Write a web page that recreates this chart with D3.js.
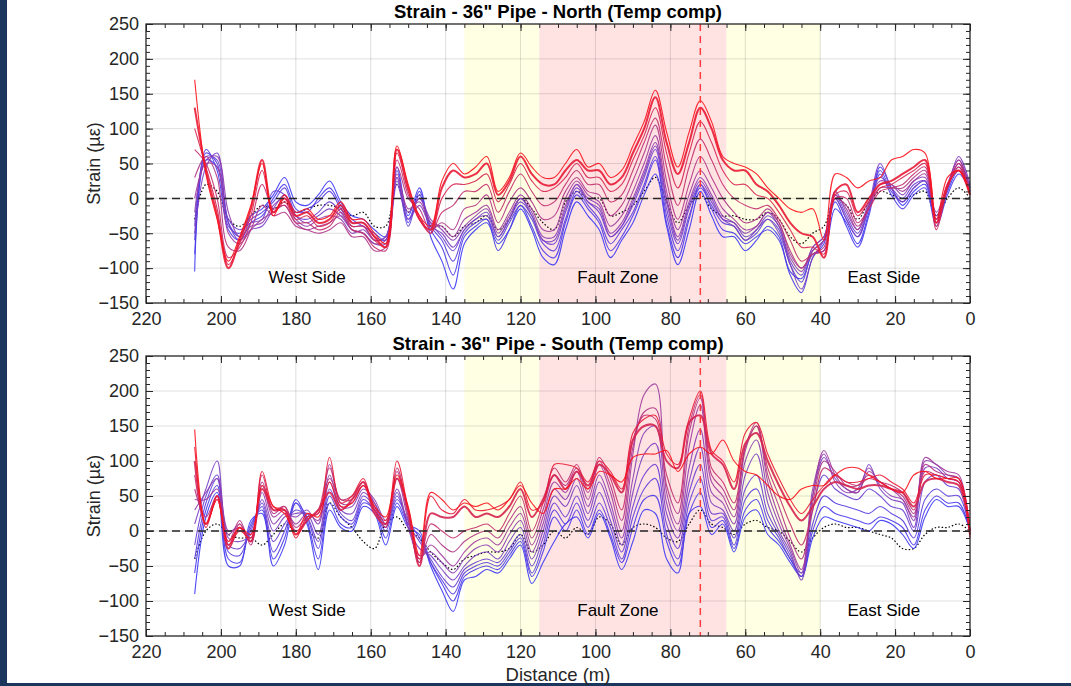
<!DOCTYPE html>
<html>
<head>
<meta charset="utf-8">
<script src="https://cdn.jsdelivr.net/npm/d3@7"></script>
<style>
  body { margin: 0; background: #fff; }
  svg { display: block; font-family: "Liberation Sans", Arial, sans-serif; }
</style>
</head>
<body>
<div id="chart"></div>
<script>
const width = 1071;
const height = 686;

// AXES
const xTicks = [220, 200, 180, 160, 140, 120, 100, 80, 60, 40, 20, 0];
const yTicks = [-150, -100, -50, 0, 50, 100, 150, 200, 250];

// ZONES (m)
const transitionWest = [135, 115];
const faultZone = [115, 65];
const transitionEast = [65, 40];
const faultTrace = 72;
const zoneNames = ["West Side", "Fault Zone", "East Side"];
const zoneNameAt = [177, 94, 23];
const zoneNameLevel = -121;

// DISTANCE OF EACH READING (m)
const distance = [207, 204, 201, 198, 195, 192, 189, 186, 183, 180, 177, 174, 171, 168, 165, 162, 159,
  156, 153, 150, 147, 144, 141, 138, 135, 132, 129, 126, 123, 120, 117, 114, 111, 108, 105, 102, 99,
  96, 93, 90, 87, 84, 81, 78, 75, 72, 69, 66, 63, 60, 57, 54, 51, 48, 45, 42, 39, 36, 33, 30, 27, 24,
  21, 18, 15, 12, 9, 6, 3, 0];

// NORTH - strain (µε), earliest to latest
const n01 = [-105,55,45,-35,-55, -25,-15,5,30,-5,-10,5,25,-5,-25,-30,-45, -55,45,-25,15,-55,-90,-130,-65,
  -45,-35,-65,-45,-15,-45,-85,-95,-45,-5,-25,-45,-85,-60,-35,5,35,-40,-95,-45,10,-25,-55,
  -55,-75,-60,-40,-55,-105,-115,-80,-75,-15,-35,-65,-20,45,15,-10,10,20,-35,10,40,15];
const n02 = [-80,70,40,-45,-60, -35,-25,0,20,-15,-20,0,15,-10,-30,-40,-50, -60,40,-35,10,-45,-70,-110,-55,
  -40,-30,-75,-45,-10,-40,-75,-85,-35,5,-15,-35,-75,-55,-25,15,55,-35,-85,-30,20,-15,-45,
  -50,-65,-55,-45,-60,-110,-135,-85,-65,-5,-40,-70,-25,35,5,-15,5,15,-40,5,35,10];
const n03 = [-60,65,50,-40,-50, -30,-20,-5,15,-20,-15,-5,10,-15,-35,-35,-55, -60,30,-40,5,-40,-60,-90,-50,
  -35,-30,-60,-35,-10,-30,-65,-75,-30,10,-10,-30,-65,-45,-20,20,60,-25,-75,-25,15,-10,-35,
  -40,-60,-50,-30,-45,-95,-120,-75,-60,0,-30,-55,-15,40,10,-5,15,25,-30,15,45,10];
const n04 = [-40,60,55,-30,-45, -35,-30,10,5,-25,-30,-20,-5,-20,-40,-40,-60, -55,25,-30,0,-35,-55,-75,-45,
  -30,-20,-55,-30,0,-25,-60,-65,-20,15,-5,-20,-55,-40,-10,30,70,-15,-65,-15,20,-5,-30,
  -35,-55,-45,-25,-40,-90,-110,-70,-55,5,-25,-50,-10,30,15,0,20,25,-25,15,50,15];
const n05 = [-50,45,65,-35,-60, -45,-40,-15,5,-25,-35,-25,-15,-25,-45,-50,-65, -65,20,-30,-10,-40,-50,-70,-45,
  -30,-25,-55,-30,-5,-25,-60,-60,-15,20,-5,-15,-55,-40,-5,35,75,-5,-60,-10,25,0,-30,
  -40,-60,-45,-30,-50,-95,-130,-85,-60,0,-30,-55,-10,50,15,-5,15,25,-30,15,60,20];
const n06 = [-20,55,60,-20,-55, -40,-35,-10,0,-30,-40,-30,-25,-30,-50,-45,-60, -55,30,-20,0,-30,-45,-60,-40,
  -25,-15,-50,-25,0,-20,-55,-55,-10,20,0,-10,-50,-35,0,40,80,0,-55,-5,30,5,-25,
  -35,-50,-40,-20,-40,-85,-105,-70,-55,10,-20,-45,-5,25,20,5,25,30,-20,20,55,15];
const n07 = [0,50,45,-50,-65, -45,-30,-20,-10,-35,-45,-40,-35,-25,-45,-50,-65, -60,35,-15,-5,-35,-40,-55,-30,
  -20,-10,-45,-20,5,-15,-45,-45,0,25,5,-5,-40,-25,10,50,90,10,-45,5,40,15,-15,
  -30,-45,-40,-20,-35,-80,-100,-75,-60,5,-15,-45,-10,20,20,10,25,35,-25,20,55,10];
const n08 = [30,60,30,-70,-75, -45,-10,-25,-20,-40,-45,-50,-45,-35,-55,-55,-75, -70,45,0,-15,-45,-35,-45,-15,
  -10,5,-35,-5,15,-5,-30,-25,10,30,10,5,-25,-10,25,65,105,25,-30,20,60,30,0,
  -20,-35,-30,-15,-35,-75,-100,-80,-70,0,-10,-40,-15,15,15,15,30,40,-35,15,50,10];
const n09 = [70,50,0,-85,-70, -35,20,-15,-10,-35,-35,-45,-40,-20,-45,-50,-70, -75,55,5,-25,-50,-20,-10,10,
  10,20,-20,10,35,10,-10,-5,20,40,20,20,-5,5,40,80,115,45,-10,45,85,55,20,
  0,-10,-15,-10,-30,-60,-90,-80,-75,0,0,-35,-15,10,15,20,35,45,-40,15,50,5];
const n10 = [100,45,-15,-95,-65, -25,40,-20,-5,-30,-25,-40,-35,-15,-40,-40,-60, -70,65,10,-30,-50,0,20,20,
  25,35,-5,20,50,25,10,15,30,50,30,30,10,20,55,90,130,65,15,65,110,80,40,
  20,20,5,0,-20,-45,-70,-70,-80,5,10,-25,-5,15,20,30,40,50,-45,15,45,5];
const n11 = [130,40,-25,-100,-60, -15,55,-20,0,-25,-20,-35,-30,-10,-35,-35,-55, -70,70,15,-30,-45,15,40,30,
  35,50,5,25,60,35,20,20,40,55,40,40,20,30,65,100,145,80,35,80,130,100,55,
  40,40,20,10,-10,-35,-50,-55,-85,10,20,-20,0,20,25,35,45,55,-35,20,40,5];
const n12 = [170,35,-30,-90,-55, -10,50,-25,5,-20,-15,-30,-25,-5,-30,-30,-50, -65,75,20,-25,-40,25,50,35,
  45,60,10,30,65,45,30,30,50,70,45,50,30,40,75,110,155,95,45,95,140,110,60,
  50,45,35,15,0,-15,-20,-15,-60,35,30,15,25,30,55,60,70,65,-30,30,40,5];
const northBaseline = [-30,20,10,-30,-40, -25,-10,-15,-5,-20,-15,-10,-10,-15,-25,-20,-40, -40,20,-20,5,-40,-40,-55,-40,
  -35,-25,-45,-30,0,-15,-35,-45,-5,10,0,0,-25,-20,-10,10,30,-5,-35,-10,5,-15,-25,
  -25,-30,-30,-20,-30,-55,-65,-50,-40,0,-10,-30,-5,10,5,0,5,10,-25,0,15,0];
const northSeries = [n01, n02, n03, n04, n05, n06, n07, n08, n09, n10, n11, n12];
const northBold = [10];

// SOUTH - strain (µε), earliest to latest
const s01 = [-90,20,55,-50,-50, 15,25,-50,-20,40,10,-55,30,5,0,35,25, -20,35,5,-5,-50,-85,-115,-70,
  -65,-55,-60,-40,-20,-75,-45,-15,10,20,-10,25,-10,-55,-15,30,25,-40,-60,25,35,-5,10,
  -30,20,30,-5,-20,-45,-65,-10,20,15,10,5,0,15,10,-5,-25,20,45,35,35,0];
const s02 = [-60,30,65,-40,-45, 10,30,-40,-10,45,15,-40,40,10,5,40,30, -10,40,10,0,-45,-75,-100,-65,
  -55,-50,-55,-35,-15,-65,-30,20,0,30,-5,30,-5,-45,5,45,50,-15,-50,25,55,5,15,
  -25,30,45,5,-15,-40,-65,0,35,25,20,15,10,20,15,5,-20,30,50,40,40,0];
const s03 = [-40,40,75,-30,-35, 5,35,-30,0,40,20,-25,50,20,10,45,30, 0,45,15,-10,-45,-70,-90,-60,
  -50,-45,-50,-30,-10,-60,-20,30,10,40,5,40,5,-40,20,60,75,-5,-40,40,75,15,20,
  -20,45,60,15,-10,-40,-60,10,50,40,35,30,25,35,25,15,-10,45,60,50,50,0];
const s04 = [-20,50,80,-20,-25, 0,40,-15,10,30,20,-15,60,25,15,50,35, 5,50,10,-15,-40,-65,-80,-55,
  -45,-40,-45,-25,-5,-50,-10,40,20,50,15,55,15,-30,35,80,95,10,-25,55,95,25,25,
  -10,60,80,25,-5,-35,-65,30,80,60,50,45,60,50,35,30,0,70,80,65,60,0];
const s05 = [10,60,100,-10,-15, -5,45,0,20,25,25,-5,70,30,25,55,40, 10,55,5,-25,-35,-55,-70,-50,
  -35,-30,-40,-15,5,-40,0,50,35,65,25,70,30,-20,55,110,125,25,-10,70,120,40,30,
  0,80,110,40,0,-30,-70,50,105,75,60,55,95,60,45,40,5,90,90,75,70,0];
const s06 = [30,55,75,0,5, -10,55,10,25,20,30,10,80,35,35,60,45, 15,60,5,-35,-30,-45,-60,-40,
  -25,-20,-30,-5,15,-30,10,60,45,75,35,80,40,-10,75,140,150,40,0,90,145,55,40,
  10,100,130,55,10,-25,-60,60,110,70,55,60,90,65,50,45,15,100,95,80,75,0];
const s07 = [45,45,60,-5,10, -15,65,20,30,10,25,15,95,40,40,65,40, 10,75,15,-40,-20,-35,-50,-30,
  -15,-10,-20,5,25,-20,20,70,55,85,45,95,55,0,110,195,210,55,10,120,180,70,50,
  20,115,150,70,20,-20,-55,50,115,80,60,55,85,70,60,45,20,105,95,85,80,0];
const s08 = [60,20,50,-15,15, -20,70,25,35,5,20,25,75,45,45,65,35, 5,85,20,-45,-5,-20,-30,-15,
  -5,0,-10,15,35,-10,30,80,65,90,55,100,65,15,120,170,175,65,25,140,190,80,60,
  30,120,155,80,35,-10,-40,40,100,85,65,65,80,70,60,50,25,95,85,80,75,0];
const s09 = [80,10,45,-20,10, -15,80,30,35,0,15,30,90,45,50,70,30, 5,90,25,-45,10,0,-10,0,
  5,10,0,25,50,0,40,90,70,95,60,105,75,30,130,165,160,80,40,150,195,90,70,
  40,120,150,90,50,10,-20,30,90,80,70,65,75,70,65,55,30,85,80,75,70,-5];
const s10 = [100,10,50,-25,5, -15,60,30,30,-5,15,30,55,30,45,70,25, 10,75,30,-50,25,20,20,35,
  20,25,20,35,60,20,45,80,60,85,65,95,80,55,130,150,150,100,90,155,165,110,95,
  60,125,140,100,65,35,15,35,60,70,65,60,65,65,60,55,35,70,75,70,65,-5];
const s11 = [120,5,50,-20,0, -10,85,35,30,-10,20,25,105,40,50,75,30, 15,100,30,-40,50,30,25,45,
  30,30,35,45,70,30,40,95,95,90,70,100,85,60,140,160,165,110,95,160,200,115,100,
  70,140,155,110,75,45,25,45,65,80,70,70,75,80,70,60,40,80,80,75,70,-10];
const s12 = [145,10,45,-15,5, -5,65,35,25,-5,25,20,70,35,40,65,35, 20,80,35,-35,55,45,30,40,
  35,40,30,45,65,40,25,60,60,75,60,85,80,70,105,110,110,115,85,110,120,110,130,
  100,85,80,65,50,45,60,65,65,80,90,90,80,70,60,55,80,85,75,75,75,0];
const southBaseline = [-40,0,10,-5,-10, -10,-20,-5,10,0,0,-10,40,20,5,-15,-25, 10,20,0,-10,-30,-45,-55,-40,
  -35,-30,-30,-25,-5,-30,-20,0,-10,5,-5,20,10,-20,5,10,5,-10,-15,10,30,10,5,
  -5,10,15,5,0,-15,-30,-10,5,10,5,5,0,-5,-10,-25,-25,-5,5,5,10,0];
const southSeries = [s01, s02, s03, s04, s05, s06, s07, s08, s09, s10, s11, s12];
const southBold = [9];

const panels = [
  { title: "Strain - 36\" Pipe - North (Temp comp)", series: northSeries, base: northBaseline, bold: northBold, top: 24, bottom: 303, xLabel: false },
  { title: "Strain - 36\" Pipe - South (Temp comp)", series: southSeries, base: southBaseline, bold: southBold, top: 356, bottom: 636, xLabel: true }
];

const ink = "#262626";
const fontSize = 18;
const lineColor = d3.interpolateRgbBasis(["#3a36f5", "#9248b8", "#fc1018"]);

const svg = d3.select("#chart")
  .append("svg")
  .attr("width", width)
  .attr("height", height);

svg.append("rect").attr("width", width).attr("height", height).attr("fill", "#fff");

// slide frame
svg.append("rect").attr("x", 0).attr("y", 0).attr("width", 7).attr("height", height).attr("fill", "#1b365d");
svg.append("rect").attr("x", 0).attr("y", 683).attr("width", width).attr("height", 3).attr("fill", "#1b365d");

const x = d3.scaleLinear().domain([220, 0]).range([146, 970]);

panels.forEach(p => drawPanel(p));

function drawPanel(p) {
  const y = d3.scaleLinear().domain([-150, 250]).range([p.bottom, p.top]);
  const g = svg.append("g");

  // ZONE SHADING
  const band = (range, color) => g.append("rect")
    .attr("x", x(range[0]))
    .attr("width", x(range[1]) - x(range[0]))
    .attr("y", p.top)
    .attr("height", p.bottom - p.top)
    .attr("fill", color);
  band(transitionWest, "#ffffe3");
  band(faultZone, "#ffe3e3");
  band(transitionEast, "#ffffe3");

  // GRID
  g.append("g").selectAll("line")
    .data(xTicks.slice(1, -1))
    .enter().append("line")
    .attr("x1", d => x(d)).attr("x2", d => x(d))
    .attr("y1", p.top).attr("y2", p.bottom)
    .attr("stroke", ink).attr("stroke-opacity", 0.15);
  g.append("g").selectAll("line")
    .data(yTicks.slice(1, -1))
    .enter().append("line")
    .attr("x1", x(220)).attr("x2", x(0))
    .attr("y1", d => y(d)).attr("y2", d => y(d))
    .attr("stroke", ink).attr("stroke-opacity", 0.15);

  // LINES
  const line = d3.line()
    .x((d, i) => x(distance[i]))
    .y(d => y(d))
    .curve(d3.curveCatmullRom.alpha(0.5));

  g.append("path")
    .attr("d", line(p.base))
    .attr("fill", "none")
    .attr("stroke", "#000")
    .attr("stroke-width", 1.2)
    .attr("stroke-dasharray", "1.5,2");

  const n = p.series.length;
  g.append("g").selectAll("path")
    .data(p.series)
    .enter().append("path")
    .attr("d", d => line(d))
    .attr("fill", "none")
    .attr("stroke", (d, i) => lineColor(i / (n - 1)))
    .attr("stroke-opacity", 0.9)
    .attr("stroke-width", (d, i) => p.bold.includes(i) ? 2 : 1.1);

  // zero line and fault trace
  g.append("line")
    .attr("x1", x(220)).attr("x2", x(0))
    .attr("y1", y(0)).attr("y2", y(0))
    .attr("stroke", ink).attr("stroke-width", 1.5)
    .attr("stroke-dasharray", "8,5");
  g.append("line")
    .attr("x1", x(faultTrace)).attr("x2", x(faultTrace))
    .attr("y1", p.top).attr("y2", p.bottom)
    .attr("stroke", "#ff3b3b").attr("stroke-width", 1.5)
    .attr("stroke-dasharray", "7,5");

  // ZONE NAMES
  g.append("g").selectAll("text")
    .data(zoneNames)
    .enter().append("text")
    .attr("x", (d, i) => x(zoneNameAt[i]))
    .attr("y", y(zoneNameLevel))
    .attr("text-anchor", "middle")
    .attr("font-size", 17)
    .attr("fill", "#000")
    .text(d => d);

  // AXES
  const styleAxis = a => {
    a.select(".domain").remove();
    a.selectAll("line").attr("stroke", ink);
    a.selectAll("text").attr("font-size", fontSize).attr("fill", ink).attr("font-family", "Liberation Sans, Arial, sans-serif");
  };
  g.append("g").attr("transform", `translate(0,${p.bottom})`)
    .call(d3.axisBottom(x).tickValues(xTicks).tickSize(-7).tickPadding(9).tickFormat(d3.format("d")))
    .call(styleAxis);
  g.append("g").attr("transform", `translate(0,${p.bottom})`)
    .call(d3.axisBottom(x).ticks(44).tickSize(-4).tickFormat(""))
    .call(styleAxis);
  g.append("g").attr("transform", `translate(0,${p.top})`)
    .call(d3.axisTop(x).tickValues(xTicks).tickSize(-7).tickFormat(""))
    .call(styleAxis);
  g.append("g").attr("transform", `translate(0,${p.top})`)
    .call(d3.axisTop(x).ticks(44).tickSize(-4).tickFormat(""))
    .call(styleAxis);
  g.append("g").attr("transform", `translate(${x(220)},0)`)
    .call(d3.axisLeft(y).tickValues(yTicks).tickSize(-7).tickPadding(7))
    .call(styleAxis);
  g.append("g").attr("transform", `translate(${x(220)},0)`)
    .call(d3.axisLeft(y).ticks(40).tickSize(-4).tickFormat(""))
    .call(styleAxis);
  g.append("g").attr("transform", `translate(${x(0)},0)`)
    .call(d3.axisRight(y).tickValues(yTicks).tickSize(-7).tickFormat(""))
    .call(styleAxis);
  g.append("g").attr("transform", `translate(${x(0)},0)`)
    .call(d3.axisRight(y).ticks(40).tickSize(-4).tickFormat(""))
    .call(styleAxis);

  g.append("rect")
    .attr("x", x(220)).attr("y", p.top)
    .attr("width", x(0) - x(220)).attr("height", p.bottom - p.top)
    .attr("fill", "none").attr("stroke", ink).attr("stroke-width", 1.3);

  // TITLES
  g.append("text")
    .attr("x", (x(220) + x(0)) / 2)
    .attr("y", p.top - 6)
    .attr("text-anchor", "middle")
    .attr("font-size", 18.5)
    .attr("font-weight", "bold")
    .attr("fill", "#000")
    .text(p.title);

  g.append("text")
    .attr("transform", `translate(100,${(p.top + p.bottom) / 2}) rotate(-90)`)
    .attr("text-anchor", "middle")
    .attr("font-size", fontSize)
    .attr("fill", ink)
    .text("Strain (µε)");

  if (p.xLabel) {
    g.append("text")
      .attr("x", (x(220) + x(0)) / 2)
      .attr("y", 681)
      .attr("text-anchor", "middle")
      .attr("font-size", 18.5)
      .attr("fill", ink)
      .text("Distance (m)");
  }
}
</script>
</body>
</html>
